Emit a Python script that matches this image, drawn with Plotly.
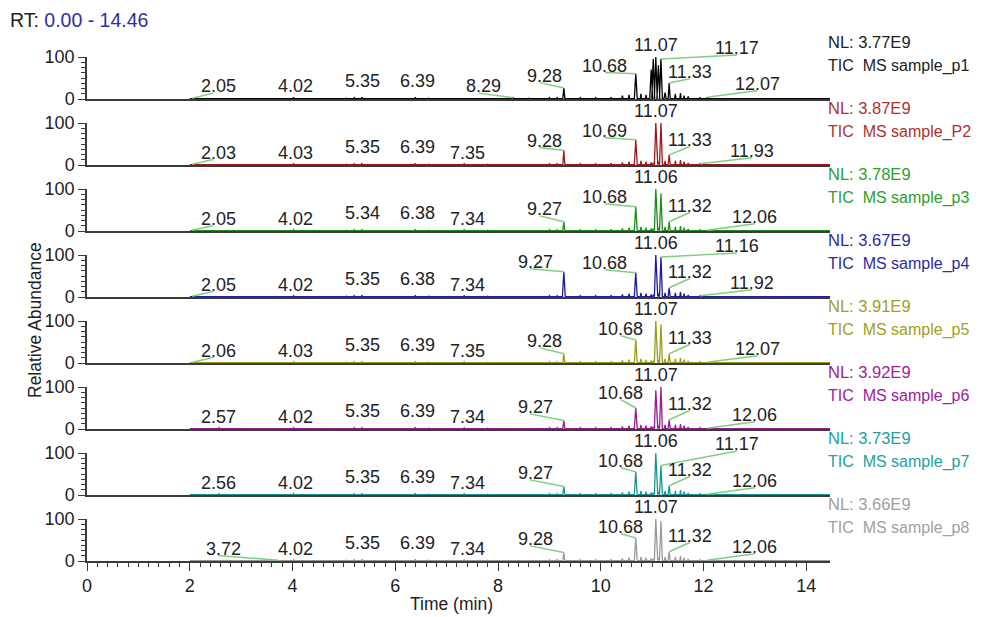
import plotly.graph_objects as go

# ---------------- data ----------------
sample_names = ["sample_p1", "sample_P2", "sample_p3", "sample_p4",
                "sample_p5", "sample_p6", "sample_p7", "sample_p8"]
nl_values = ["3.77E9", "3.87E9", "3.78E9", "3.67E9", "3.91E9", "3.92E9", "3.73E9", "3.66E9"]

peak_rt = [2.05, 2.57, 3.72, 4.02, 4.55, 5.05, 5.20, 5.35, 5.50, 5.85,
           6.20, 6.39, 6.65, 7.05, 7.34, 7.80, 8.10, 8.29, 8.60, 9.00,
           9.15, 9.28, 9.60, 9.90, 10.20, 10.42, 10.55, 10.68, 10.78, 10.88,
           10.98, 11.02, 11.07, 11.12, 11.17, 11.25, 11.33, 11.45, 11.55, 11.62,
           11.70, 11.93, 12.07, 12.50]

h_p1 = [2, 1, 1, 4, 1, 2, 3, 4, 2, 2, 2, 4, 2, 1, 2, 2, 2, 3, 2, 3, 3, 26, 3, 3, 4,
        8, 10, 60, 12, 10, 70, 95, 100, 80, 95, 15, 38, 12, 14, 8, 6, 3, 4, 1]
h_p2 = [2, 1, 1, 3, 1, 2, 3, 4, 2, 2, 2, 4, 2, 1, 3, 2, 2, 2, 2, 3, 3, 35, 3, 3, 4,
        6, 8, 60, 10, 8, 6, 5, 100, 8, 100, 10, 24, 10, 12, 8, 5, 3, 2, 1]
h_p3 = [2, 1, 1, 3, 1, 2, 3, 4, 2, 2, 2, 4, 2, 1, 3, 2, 2, 2, 2, 3, 3, 22, 3, 3, 4,
        6, 8, 58, 10, 8, 6, 5, 100, 8, 90, 10, 22, 10, 12, 8, 5, 3, 2, 1]
h_p4 = [2, 1, 1, 3, 1, 2, 3, 4, 2, 2, 2, 4, 2, 1, 3, 2, 2, 2, 2, 3, 3, 60, 3, 3, 4,
        6, 8, 58, 10, 8, 6, 5, 100, 8, 95, 10, 22, 10, 12, 8, 5, 3, 2, 1]
h_p5 = [2, 1, 1, 3, 1, 2, 3, 4, 2, 2, 2, 4, 2, 1, 3, 2, 2, 2, 2, 3, 3, 22, 3, 3, 4,
        6, 8, 55, 10, 8, 6, 5, 100, 8, 92, 10, 22, 10, 12, 8, 5, 3, 2, 1]
h_p6 = [2, 3, 1, 3, 1, 2, 3, 4, 2, 2, 2, 4, 2, 1, 3, 2, 2, 2, 2, 3, 3, 20, 3, 3, 4,
        6, 8, 50, 10, 8, 6, 5, 92, 8, 100, 10, 22, 10, 12, 8, 5, 3, 2, 1]
h_p7 = [2, 3, 1, 3, 1, 2, 3, 4, 2, 2, 2, 4, 2, 1, 3, 2, 2, 2, 2, 3, 3, 20, 3, 3, 4,
        6, 8, 55, 10, 8, 6, 5, 100, 8, 70, 10, 22, 10, 12, 8, 5, 3, 2, 1]
h_p8 = [2, 1, 2, 3, 1, 2, 3, 4, 2, 2, 2, 4, 2, 1, 3, 2, 2, 2, 2, 3, 3, 20, 3, 3, 4,
        6, 8, 55, 10, 8, 6, 5, 100, 8, 95, 10, 22, 10, 12, 8, 5, 3, 2, 1]
heights = [h_p1, h_p2, h_p3, h_p4, h_p5, h_p6, h_p7, h_p8]

# peak labels: (text, labelled peak RT)
lab_p1 = [("2.05", 2.05), ("4.02", 4.02), ("5.35", 5.35), ("6.39", 6.39), ("8.29", 8.29),
          ("9.28", 9.28), ("10.68", 10.68), ("11.07", 11.07), ("11.17", 11.17),
          ("11.33", 11.33), ("12.07", 12.07)]
lab_p2 = [("2.03", 2.05), ("4.03", 4.02), ("5.35", 5.35), ("6.39", 6.39), ("7.35", 7.34),
          ("9.28", 9.28), ("10.69", 10.68), ("11.07", 11.07), ("11.33", 11.33), ("11.93", 11.93)]
lab_p3 = [("2.05", 2.05), ("4.02", 4.02), ("5.34", 5.35), ("6.38", 6.39), ("7.34", 7.34),
          ("9.27", 9.28), ("10.68", 10.68), ("11.06", 11.07), ("11.32", 11.33), ("12.06", 12.07)]
lab_p4 = [("2.05", 2.05), ("4.02", 4.02), ("5.35", 5.35), ("6.38", 6.39), ("7.34", 7.34),
          ("9.27", 9.28), ("10.68", 10.68), ("11.06", 11.07), ("11.16", 11.17),
          ("11.32", 11.33), ("11.92", 11.93)]
lab_p5 = [("2.06", 2.05), ("4.03", 4.02), ("5.35", 5.35), ("6.39", 6.39), ("7.35", 7.34),
          ("9.28", 9.28), ("10.68", 10.68), ("11.07", 11.07), ("11.33", 11.33), ("12.07", 12.07)]
lab_p6 = [("2.57", 2.57), ("4.02", 4.02), ("5.35", 5.35), ("6.39", 6.39), ("7.34", 7.34),
          ("9.27", 9.28), ("10.68", 10.68), ("11.07", 11.07), ("11.32", 11.33), ("12.06", 12.07)]
lab_p7 = [("2.56", 2.57), ("4.02", 4.02), ("5.35", 5.35), ("6.39", 6.39), ("7.34", 7.34),
          ("9.27", 9.28), ("10.68", 10.68), ("11.06", 11.07), ("11.17", 11.17),
          ("11.32", 11.33), ("12.06", 12.07)]
lab_p8 = [("3.72", 3.72), ("4.02", 4.02), ("5.35", 5.35), ("6.39", 6.39), ("7.34", 7.34),
          ("9.28", 9.28), ("10.68", 10.68), ("11.07", 11.07), ("11.32", 11.33), ("12.06", 12.07)]
labels = [lab_p1, lab_p2, lab_p3, lab_p4, lab_p5, lab_p6, lab_p7, lab_p8]

# label placement (time, abundance of text centre), kept apart from the values
pos_p1 = [(2.55, 30), (4.05, 30), (5.37, 44), (6.44, 44), (7.72, 30), (8.91, 55),
          (10.08, 79), (11.07, 129), (12.65, 121), (11.73, 64), (13.05, 36)]
pos_p2 = [(2.55, 29), (4.05, 29), (5.37, 43), (6.44, 43), (7.41, 29), (8.91, 57),
          (10.08, 81), (11.07, 129), (11.73, 60), (12.94, 33)]
pos_p3 = [(2.55, 29), (4.05, 29), (5.37, 43), (6.44, 43), (7.41, 29), (8.91, 52),
          (10.08, 81), (11.07, 129), (11.73, 60), (13.0, 33)]
pos_p4 = [(2.55, 29), (4.05, 29), (5.37, 43), (6.44, 43), (7.41, 29), (8.72, 83),
          (10.08, 81), (11.07, 129), (12.65, 121), (11.73, 60), (12.94, 33)]
pos_p5 = [(2.55, 29), (4.05, 29), (5.37, 43), (6.44, 43), (7.41, 29), (8.91, 52),
          (10.39, 81), (11.07, 129), (11.73, 60), (13.05, 33)]
pos_p6 = [(2.55, 29), (4.05, 29), (5.37, 43), (6.44, 43), (7.41, 29), (8.72, 52),
          (10.39, 86), (11.07, 129), (11.73, 60), (13.0, 33)]
pos_p7 = [(2.55, 29), (4.05, 29), (5.37, 43), (6.44, 43), (7.41, 29), (8.72, 52),
          (10.39, 81), (11.07, 129), (12.65, 121), (11.73, 60), (13.0, 33)]
pos_p8 = [(2.65, 29), (4.05, 29), (5.37, 43), (6.44, 43), (7.41, 29), (8.72, 52),
          (10.39, 81), (11.07, 129), (11.73, 60), (13.0, 33)]
positions = [pos_p1, pos_p2, pos_p3, pos_p4, pos_p5, pos_p6, pos_p7, pos_p8]

x_major = [0, 2, 4, 6, 8, 10, 12, 14]
x_minor = [round(0.2 * k, 1) for k in range(0, 71) if k % 10 != 0]
y_major = [0, 100]
y_minor = [12.5, 25, 37.5, 50, 62.5, 75, 87.5]

# ---------------- style ----------------
trace_colors = ["#000000", "#9b1b1b", "#1e8c1e", "#1c1c9c", "#9c9c18", "#941c94", "#1c9494", "#9a9a9a"]
text_colors = ["#222222", "#b0302a", "#2ca02c", "#2b2ba0", "#a0a020", "#a020a0", "#23a0a0", "#a0a0a0"]
leader_color = "#7fcf7f"
FONT = "Arial, Liberation Sans, sans-serif"
FS = 18

OFF = 8                      # page body margin of the html page
W, H = 1003 - OFF, 617 - OFF
L, RPX, T, B = 87 - OFF, 830 - OFF, 57 - OFF, 561 - OFF
PW, PH = RPX - L, B - T
XMAX = 14.46
PPU = PW / XMAX
baselines = [99 - OFF, 165 - OFF, 231 - OFF, 297 - OFF, 363 - OFF, 429 - OFF, 495 - OFF, 561 - OFF]
SPAN = 42
BASEVAL = 0.8


def px_x(px):
    return (px - OFF - L) / PW


def px_y(py):
    return (B - (py - OFF)) / PH


fig = go.Figure()
annotations = []
shapes = []
layout_axes = {}

for i in range(8):
    k = i + 1
    xa = "x" if k == 1 else f"x{k}"
    ya = "y" if k == 1 else f"y{k}"
    d0 = (B - baselines[i]) / PH
    d1 = (B - baselines[i] + SPAN) / PH

    def to_py(v):
        return d0 + v / 100 * (d1 - d0)

    # chromatogram trace
    xs, ys = [2.0], [BASEVAL]
    for rt, h in zip(peak_rt, heights[i]):
        w = 0.028 if h >= 40 else (0.02 if h >= 15 else 0.012)
        xs += [rt - w, rt, rt + w]
        ys += [BASEVAL, h, BASEVAL]
    xs.append(XMAX)
    ys.append(BASEVAL)
    fig.add_trace(go.Scatter(x=xs, y=ys, mode="lines", xaxis=xa, yaxis=ya,
                             line=dict(color=trace_colors[i], width=1.3),
                             hoverinfo="skip", showlegend=False))

    bottom = (k == 8)
    layout_axes["xaxis" if k == 1 else f"xaxis{k}"] = dict(
        domain=[0, 1], range=[0, XMAX], anchor=ya, showgrid=False, zeroline=False,
        showline=True, linecolor="#3a3a3a", linewidth=1.5,
        ticks="outside" if bottom else "", tickvals=x_major, ticklen=8, tickwidth=1.3,
        tickcolor="#3a3a3a", showticklabels=bottom,
        tickfont=dict(family=FONT, size=FS, color="#222"),
        minor=dict(tickvals=x_minor, ticks="outside" if bottom else "", ticklen=4,
                   tickcolor="#3a3a3a", tickwidth=1),
        fixedrange=True)
    layout_axes["yaxis" if k == 1 else f"yaxis{k}"] = dict(
        domain=[d0, d1], range=[0, 100], anchor=xa, showgrid=False, zeroline=False,
        showline=True, linecolor="#3a3a3a", linewidth=1.5,
        ticks="outside", tickvals=y_major, ticktext=["0", "100"], ticklen=7,
        tickwidth=1.3, tickcolor="#3a3a3a",
        tickfont=dict(family=FONT, size=FS, color="#222"),
        minor=dict(tickvals=y_minor, ticks="outside", ticklen=4, tickcolor="#3a3a3a",
                   tickwidth=1),
        fixedrange=True)

    # peak labels + leader lines (paper coordinates so nothing is hidden)
    for (txt, rt), (lx, ly) in zip(labels[i], positions[i]):
        annotations.append(dict(text=txt, x=lx / XMAX, y=to_py(ly), xref="paper", yref="paper",
                                showarrow=False, xanchor="center", yanchor="middle",
                                font=dict(family=FONT, size=FS, color="#222")))
        if abs(lx - rt) > 0.1:
            j = min(range(len(peak_rt)), key=lambda n: abs(peak_rt[n] - rt))
            apex = heights[i][j]
            a, b = txt.split(".")
            width_em = (len(a) + len(b)) * 0.556 + 0.278
            dec_em = len(a) * 0.556 + 0.139
            end_x = lx + (dec_em - width_em / 2) * FS / PPU
            end_y = ly - 16
            shapes.append(dict(type="line", xref="paper", yref="paper",
                               x0=rt / XMAX, y0=to_py(apex),
                               x1=end_x / XMAX, y1=to_py(end_y),
                               line=dict(color=leader_color, width=1.5), layer="above"))

    # right-hand info text
    annotations.append(dict(text="NL: " + nl_values[i], x=px_x(826), y=px_y(baselines[i] + OFF - 57),
                            xref="paper", yref="paper", showarrow=False, xanchor="left",
                            yanchor="middle", font=dict(family=FONT, size=16.5, color=text_colors[i])))
    annotations.append(dict(text="TIC\u00a0 MS " + sample_names[i], x=px_x(826),
                            y=px_y(baselines[i] + OFF - 33), xref="paper", yref="paper",
                            showarrow=False, xanchor="left", yanchor="middle",
                            font=dict(family=FONT, size=16, color=text_colors[i])))

annotations.append(dict(text="RT: <span style='color:#2e2ea0'>0.00 - 14.46</span>",
                        x=px_x(8), y=px_y(20), xref="paper", yref="paper", showarrow=False,
                        xanchor="left", yanchor="middle",
                        font=dict(family=FONT, size=19.5, color="#222")))
annotations.append(dict(text="Relative Abundance", x=px_x(35), y=px_y(320), xref="paper",
                        yref="paper", showarrow=False, textangle=-90, xanchor="center",
                        yanchor="middle", font=dict(family=FONT, size=17.5, color="#222")))
annotations.append(dict(text="Time (min)", x=px_x(451), y=px_y(604), xref="paper",
                        yref="paper", showarrow=False, xanchor="center", yanchor="middle",
                        font=dict(family=FONT, size=17.5, color="#222")))

fig.update_layout(width=W, height=H, margin=dict(l=L, r=W - RPX, t=T, b=H - B),
                  paper_bgcolor="white", plot_bgcolor="white", showlegend=False,
                  annotations=annotations, shapes=shapes, **layout_axes)

fig.write_html("out.html")
